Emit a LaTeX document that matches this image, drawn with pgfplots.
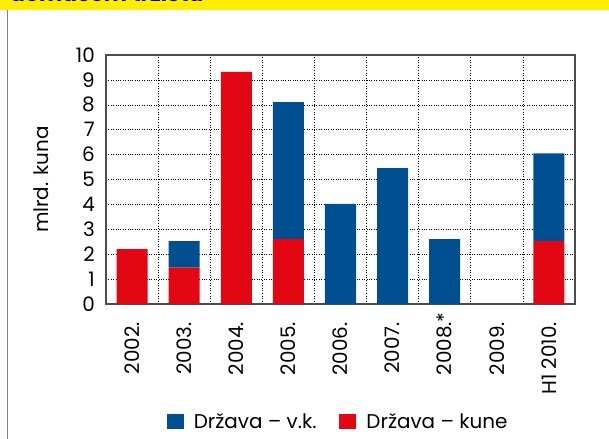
\documentclass[border=0pt]{standalone}
\usepackage{fontspec}
\setmainfont{Poppins}
\usepackage{pgfplots}
\pgfplotsset{compat=1.18}
\definecolor{vkblue}{RGB}{0,80,145}
\definecolor{kunered}{RGB}{227,6,19}
\definecolor{banner}{RGB}{255,237,0}
\newcommand{\lbl}{\fontsize{20}{24}\selectfont}
\pgfplotsset{sqlegend/.style={legend image code/.code={\fill[##1] (0bp,-7bp) rectangle (17bp,8bp);}}}
\begin{document}
\begin{tikzpicture}
\useasboundingbox (0,0) rectangle (609bp,-439bp);
\begin{scope}
  \clip (0,0) rectangle (609bp,-9.5bp);
  \fill[banner] (0,0) rectangle (609bp,-9.5bp);
  \node[anchor=base west, inner sep=0pt, font=\bfseries\fontsize{22}{26}\selectfont] at (10bp,-1bp) {domaćem tržištu};
\end{scope}
\draw[gray, line width=1.5bp] (7.5bp,-9.5bp) -- (7.5bp,-439bp);
\begin{axis}[
  at={(106bp,-304bp)}, anchor=south west,
  scale only axis, width=469bp, height=249bp,
  ybar stacked, bar width=31bp,
  xmin=-0.5, xmax=8.5, ymin=0, ymax=10,
  xtick={0,...,8},
  xticklabels={2002.,2003.,2004.,2005.,2006.,2007.,{2008.\rlap{*}},2009.,H1 2010.},
  minor xtick={0.5,1.5,...,7.5},
  ytick={0,...,10},
  xminorgrids, ymajorgrids,
  grid style={black, dotted, line width=0.6bp},
  minor grid style={black, dotted, line width=0.6bp},
  major tick length=0pt, minor tick length=0pt,
  axis line style={gray!60!black, line width=1.3bp},
  tick label style={font=\lbl},
  /pgf/number format/assume math mode=true,
  xticklabel style={rotate=90, anchor=east, inner sep=0pt},
  xticklabel shift=18bp,
  yticklabel style={anchor=east, inner sep=0pt},
  yticklabel shift=11bp,
  ylabel={mlrd. kuna},
  ylabel style={at={(axis description cs:-0.1386,0.5)}, anchor=center, font=\lbl},
  legend columns=2,
  legend style={at={(0.495,-0.474)}, anchor=center, draw=none, fill=none,
    font=\lbl, inner sep=0pt,
    /tikz/every odd column/.append style={column sep=8bp},
    /tikz/every even column/.append style={column sep=21bp}},
]
\addplot[fill=kunered, draw=none, forget plot] coordinates {
  (0,2.2) (1,1.46) (2,9.32) (3,2.61) (4,0) (5,0) (6,0) (7,0) (8,2.53)};
\addplot[fill=vkblue, draw=none, forget plot] coordinates {
  (0,0) (1,1.07) (2,0) (3,5.5) (4,4.02) (5,5.46) (6,2.61) (7,0) (8,3.52)};
\addlegendimage{fill=vkblue, draw=none, sqlegend}
\addlegendentry{Država – v.k.}
\addlegendimage{fill=kunered, draw=none, sqlegend}
\addlegendentry{Država – kune}
\end{axis}
\end{tikzpicture}
\end{document}
